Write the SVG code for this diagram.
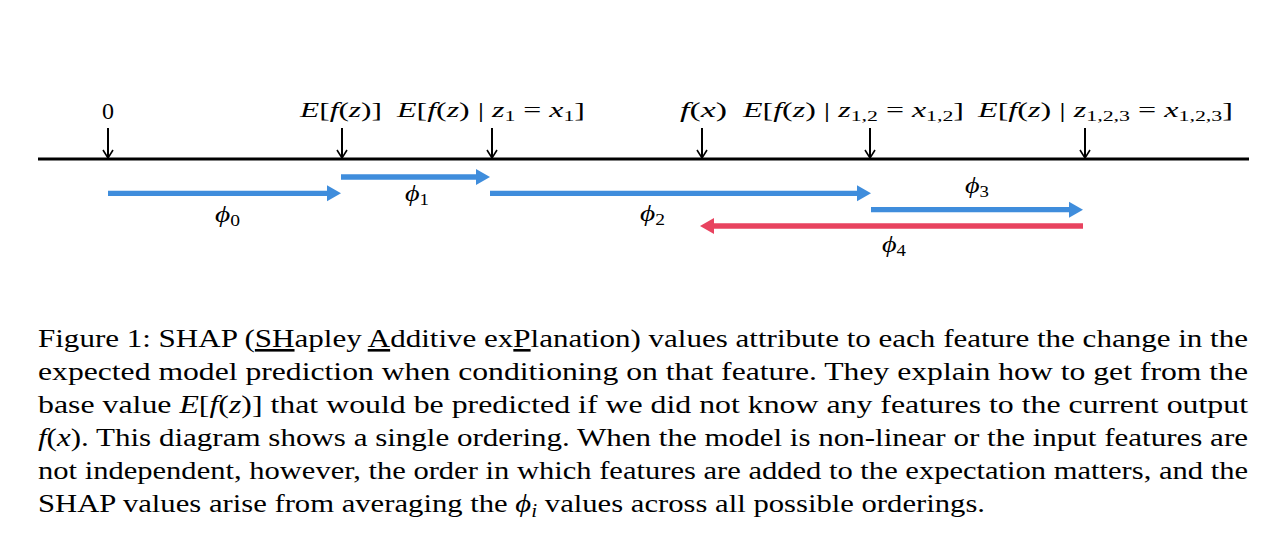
<svg xmlns="http://www.w3.org/2000/svg" width="1278" height="538" viewBox="0 0 1278 538">
<style>
.m{font-family:"Liberation Serif",serif;font-size:22px;fill:#000}
.i{font-style:italic}
.s{font-size:15px}
.ph{font-family:"Liberation Serif","DejaVu Serif",serif;font-size:24px;fill:#000}
.ps{font-size:16px}
.cap{font-family:"Liberation Serif",serif;font-size:26px;fill:#000}
.tick{stroke:#000;stroke-width:2;fill:none}
.chev{stroke:#000;stroke-width:1.6;fill:none}
.blue{stroke:#3f8ddc;stroke-width:5.3}
.bh{fill:#3f8ddc}
.red{stroke:#e8435f;stroke-width:5.3}
.rh{fill:#e8435f}
</style>
<rect width="1278" height="538" fill="#fff"/>
<g id="axis">
<line x1="38" y1="159" x2="1249" y2="159" stroke="#000" stroke-width="3"/>
</g>
<g id="ticks">
<g id="t0"><line class="tick" x1="108" y1="128" x2="108" y2="158"/><polyline class="chev" points="103,150 108,158 113,150"/></g>
<g id="t1"><line class="tick" x1="342" y1="128" x2="342" y2="158"/><polyline class="chev" points="337,150 342,158 347,150"/></g>
<g id="t2"><line class="tick" x1="492" y1="128" x2="492" y2="158"/><polyline class="chev" points="487,150 492,158 497,150"/></g>
<g id="t3"><line class="tick" x1="702" y1="128" x2="702" y2="158"/><polyline class="chev" points="697,150 702,158 707,150"/></g>
<g id="t4"><line class="tick" x1="870" y1="128" x2="870" y2="158"/><polyline class="chev" points="865,150 870,158 875,150"/></g>
<g id="t5"><line class="tick" x1="1085" y1="128" x2="1085" y2="158"/><polyline class="chev" points="1080,150 1085,158 1090,150"/></g>
</g>
<g id="labels">
<text class="m" x="102" y="119" style="font-size:24px" textLength="12" lengthAdjust="spacingAndGlyphs">0</text>
<text class="m" x="300" y="117" textLength="82" lengthAdjust="spacingAndGlyphs"><tspan class="i">E</tspan>[<tspan class="i">f</tspan>(<tspan class="i">z</tspan>)]</text>
<text class="m" x="397" y="117" textLength="188" lengthAdjust="spacingAndGlyphs"><tspan class="i">E</tspan>[<tspan class="i">f</tspan>(<tspan class="i">z</tspan>) | <tspan class="i">z</tspan><tspan class="s" dy="4">1</tspan><tspan dy="-4"> = </tspan><tspan class="i">x</tspan><tspan class="s" dy="4">1</tspan><tspan dy="-4">]</tspan></text>
<text class="m" x="680" y="117" textLength="47" lengthAdjust="spacingAndGlyphs"><tspan class="i">f</tspan>(<tspan class="i">x</tspan>)</text>
<text class="m" x="743" y="117" textLength="221" lengthAdjust="spacingAndGlyphs"><tspan class="i">E</tspan>[<tspan class="i">f</tspan>(<tspan class="i">z</tspan>) | <tspan class="i">z</tspan><tspan class="s" dy="4">1,2</tspan><tspan dy="-4"> = </tspan><tspan class="i">x</tspan><tspan class="s" dy="4">1,2</tspan><tspan dy="-4">]</tspan></text>
<text class="m" x="978" y="117" textLength="255" lengthAdjust="spacingAndGlyphs"><tspan class="i">E</tspan>[<tspan class="i">f</tspan>(<tspan class="i">z</tspan>) | <tspan class="i">z</tspan><tspan class="s" dy="4">1,2,3</tspan><tspan dy="-4"> = </tspan><tspan class="i">x</tspan><tspan class="s" dy="4">1,2,3</tspan><tspan dy="-4">]</tspan></text>
</g>
<g id="connectors">
<g id="phi0"><line class="blue" x1="108" y1="193.3" x2="328" y2="193.3"/><polygon class="bh" points="327,185.3 341,193.3 327,201.3"/></g>
<g id="phi1"><line class="blue" x1="341" y1="177" x2="477" y2="177"/><polygon class="bh" points="476,169 490,177 476,185"/></g>
<g id="phi2"><line class="blue" x1="490" y1="193.3" x2="858" y2="193.3"/><polygon class="bh" points="857,185.3 871,193.3 857,201.3"/></g>
<g id="phi3"><line class="blue" x1="871" y1="209.7" x2="1070" y2="209.7"/><polygon class="bh" points="1069,201.7 1083,209.7 1069,217.7"/></g>
<g id="phi4"><line class="red" x1="1083" y1="226" x2="713" y2="226"/><polygon class="rh" points="714,218 700,226 714,234"/></g>
</g>
<g id="phi-labels">
<text class="ph" x="215" y="222" textLength="25" lengthAdjust="spacingAndGlyphs"><tspan class="i">ϕ</tspan><tspan class="ps" dy="4">0</tspan></text>
<text class="ph" x="405" y="201" textLength="24" lengthAdjust="spacingAndGlyphs"><tspan class="i">ϕ</tspan><tspan class="ps" dy="4">1</tspan></text>
<text class="ph" x="640" y="221" textLength="25" lengthAdjust="spacingAndGlyphs"><tspan class="i">ϕ</tspan><tspan class="ps" dy="4">2</tspan></text>
<text class="ph" x="965" y="193" textLength="24" lengthAdjust="spacingAndGlyphs"><tspan class="i">ϕ</tspan><tspan class="ps" dy="4">3</tspan></text>
<text class="ph" x="882" y="252" textLength="24" lengthAdjust="spacingAndGlyphs"><tspan class="i">ϕ</tspan><tspan class="ps" dy="4">4</tspan></text>
</g>
<g id="caption">
<text class="cap" x="38" y="347" textLength="1210" lengthAdjust="spacingAndGlyphs">Figure 1: SHAP (<tspan text-decoration="underline">SH</tspan>apley <tspan text-decoration="underline">A</tspan>dditive ex<tspan text-decoration="underline">P</tspan>lanation) values attribute to each feature the change in the</text>
<text class="cap" x="38" y="380" textLength="1210" lengthAdjust="spacingAndGlyphs">expected model prediction when conditioning on that feature.  They explain how to get from the</text>
<text class="cap" x="38" y="413" textLength="1210" lengthAdjust="spacingAndGlyphs">base value <tspan class="i">E</tspan>[<tspan class="i">f</tspan>(<tspan class="i">z</tspan>)] that would be predicted if we did not know any features to the current output</text>
<text class="cap" x="38" y="446" textLength="1210" lengthAdjust="spacingAndGlyphs"><tspan class="i">f</tspan>(<tspan class="i">x</tspan>). This diagram shows a single ordering. When the model is non-linear or the input features are</text>
<text class="cap" x="38" y="479" textLength="1210" lengthAdjust="spacingAndGlyphs">not independent, however, the order in which features are added to the expectation matters, and the</text>
<text class="cap" x="38" y="512" textLength="947" lengthAdjust="spacingAndGlyphs">SHAP values arise from averaging the <tspan class="i">ϕ</tspan><tspan class="i" font-size="18" dy="5">i</tspan><tspan dy="-5"> values across all possible orderings.</tspan></text>
</g>
</svg>
